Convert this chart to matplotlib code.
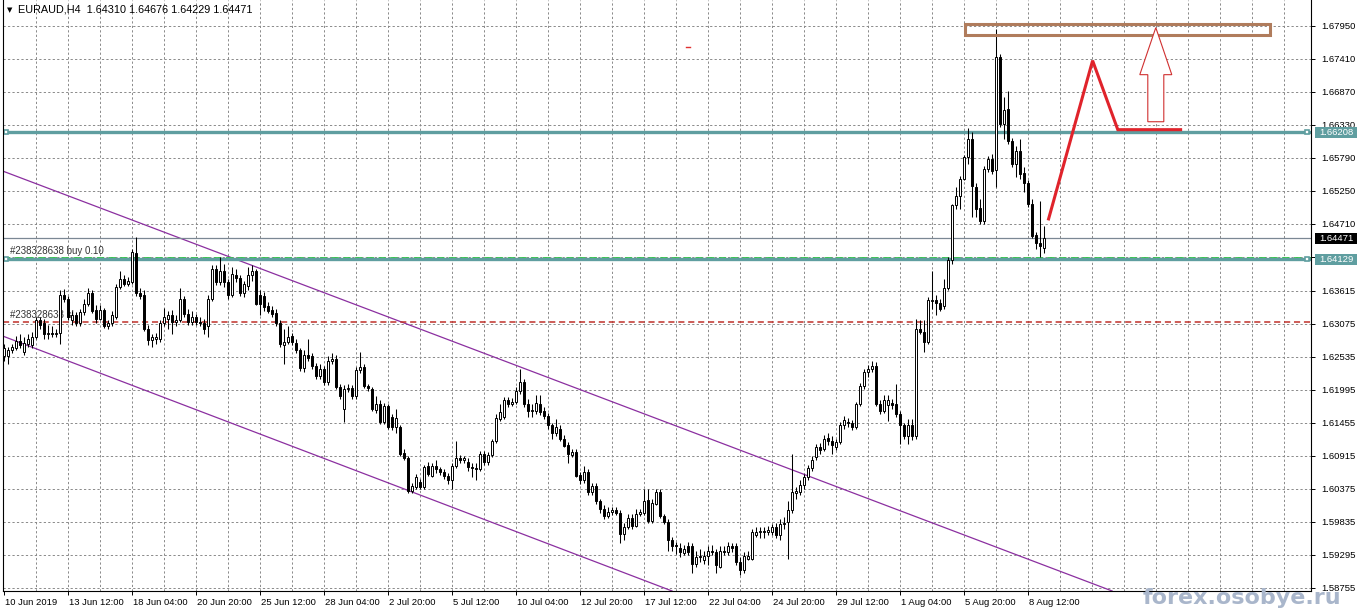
import numpy as np
import matplotlib
matplotlib.use("Agg")
import matplotlib.pyplot as plt
import matplotlib.transforms as mtransforms
from matplotlib.patches import Rectangle, Polygon
from datetime import datetime, timedelta

# EURAUD H4, first bar 10 Jun 2019 20:00
opens = [1.6254, 1.6254, 1.6264, 1.6267, 1.6280, 1.6262, 1.6275, 1.6273, 1.6286, 1.6313,
         1.6309, 1.6290, 1.6293, 1.6290, 1.6293, 1.6355, 1.6348, 1.6313, 1.6322, 1.6308,
         1.6327, 1.6340, 1.6357, 1.6330, 1.6316, 1.6330, 1.6303, 1.6308, 1.6319, 1.6368,
         1.6381, 1.6373, 1.6376, 1.6423, 1.6358, 1.6355, 1.6299, 1.6281, 1.6283, 1.6283,
         1.6308, 1.6316, 1.6322, 1.6311, 1.6314, 1.6348, 1.6324, 1.6311, 1.6319, 1.6311,
         1.6309, 1.6303, 1.6348, 1.6397, 1.6376, 1.6394, 1.6376, 1.6355, 1.6387, 1.6382,
         1.6357, 1.6370, 1.6387, 1.6394, 1.6355, 1.6353, 1.6337, 1.6330, 1.6325, 1.6308,
         1.6273, 1.6278, 1.6288, 1.6276, 1.6264, 1.6235, 1.6256, 1.6254, 1.6238, 1.6222,
         1.6234, 1.6212, 1.6247, 1.6250, 1.6204, 1.6168, 1.6201, 1.6202, 1.6190, 1.6231,
         1.6237, 1.6206, 1.6201, 1.6167, 1.6176, 1.6147, 1.6173, 1.6155, 1.6139, 1.6139,
         1.6096, 1.6087, 1.6034, 1.6041, 1.6049, 1.6041, 1.6075, 1.6059, 1.6075, 1.6069,
         1.6065, 1.6059, 1.6051, 1.6075, 1.6087, 1.6084, 1.6082, 1.6073, 1.6072, 1.6070,
         1.6095, 1.6082, 1.6093, 1.6116, 1.6152, 1.6155, 1.6182, 1.6176, 1.6180, 1.6198,
         1.6212, 1.6176, 1.6165, 1.6165, 1.6176, 1.6165, 1.6157, 1.6141, 1.6128, 1.6136,
         1.6119, 1.6109, 1.6093, 1.6098, 1.6060, 1.6051, 1.6065, 1.6032, 1.6042, 1.6018,
         1.6005, 1.5993, 1.6000, 1.6002, 1.5998, 1.5964, 1.5975, 1.5990, 1.5977, 1.5996,
         1.5998, 1.6019, 1.5985, 1.6013, 1.6032, 1.5993, 1.5983, 1.5953, 1.5946, 1.5941,
         1.5932, 1.5944, 1.5943, 1.5915, 1.5926, 1.5921, 1.5928, 1.5936, 1.5934, 1.5910,
         1.5936, 1.5934, 1.5944, 1.5943, 1.5918, 1.5904, 1.5923, 1.5923, 1.5962, 1.5967,
         1.5969, 1.5967, 1.5967, 1.5975, 1.5961, 1.5980, 1.5983, 1.6002, 1.6031, 1.6032,
         1.6044, 1.6056, 1.6072, 1.6090, 1.6105, 1.6103, 1.6121, 1.6116, 1.6106, 1.6114,
         1.6141, 1.6147, 1.6145, 1.6139, 1.6176, 1.6206, 1.6229, 1.6234, 1.6238, 1.6176,
         1.6165, 1.6175, 1.6178, 1.6176, 1.6160, 1.6141, 1.6124, 1.6141, 1.6123, 1.6299,
         1.6294, 1.6278, 1.6345, 1.6346, 1.6342, 1.6337, 1.6366, 1.6411, 1.6501, 1.6517,
         1.6545, 1.6581, 1.6610, 1.6532, 1.6497, 1.6476, 1.6561, 1.6577, 1.6559, 1.6744,
         1.6635, 1.6659, 1.6607, 1.6569, 1.6590, 1.6554, 1.6538, 1.6504, 1.6453, 1.6440,
         1.64310]
highs = [1.6275, 1.6270, 1.6275, 1.6288, 1.6290, 1.6286, 1.6291, 1.6294, 1.6319, 1.6319,
         1.6316, 1.6306, 1.6303, 1.6299, 1.6362, 1.6365, 1.6353, 1.6329, 1.6327, 1.6332,
         1.6348, 1.6366, 1.6362, 1.6338, 1.6338, 1.6333, 1.6313, 1.6329, 1.6373, 1.6394,
         1.6387, 1.6384, 1.6430, 1.6450, 1.6366, 1.6362, 1.6306, 1.6290, 1.6293, 1.6313,
         1.6333, 1.6329, 1.6330, 1.6322, 1.6366, 1.6353, 1.6332, 1.6329, 1.6324, 1.6319,
         1.6316, 1.6355, 1.6404, 1.6404, 1.6417, 1.6406, 1.6381, 1.6401, 1.6397, 1.6387,
         1.6378, 1.6401, 1.6404, 1.6397, 1.6362, 1.6360, 1.6343, 1.6337, 1.6332, 1.6313,
         1.6299, 1.6304, 1.6293, 1.6283, 1.6267, 1.6264, 1.6283, 1.6259, 1.6243, 1.6242,
         1.6238, 1.6254, 1.6260, 1.6256, 1.6209, 1.6207, 1.6209, 1.6207, 1.6237, 1.6262,
         1.6242, 1.6209, 1.6204, 1.6190, 1.6182, 1.6178, 1.6176, 1.6160, 1.6168, 1.6142,
         1.6103, 1.6091, 1.6047, 1.6062, 1.6054, 1.6077, 1.6082, 1.6080, 1.6084, 1.6073,
         1.6070, 1.6064, 1.6080, 1.6116, 1.6093, 1.6091, 1.6087, 1.6079, 1.6079, 1.6100,
         1.6100, 1.6098, 1.6119, 1.6160, 1.6176, 1.6188, 1.6188, 1.6186, 1.6204, 1.6234,
         1.6217, 1.6185, 1.6176, 1.6191, 1.6191, 1.6172, 1.6162, 1.6145, 1.6152, 1.6141,
         1.6126, 1.6114, 1.6103, 1.6103, 1.6065, 1.6075, 1.6070, 1.6047, 1.6047, 1.6021,
         1.6010, 1.6008, 1.6008, 1.6008, 1.6003, 1.5982, 1.5996, 1.5996, 1.6005, 1.6005,
         1.6037, 1.6037, 1.6021, 1.6037, 1.6037, 1.5996, 1.5988, 1.5959, 1.5951, 1.5948,
         1.5946, 1.5951, 1.5948, 1.5936, 1.5938, 1.5936, 1.5943, 1.5946, 1.5939, 1.5943,
         1.5943, 1.5951, 1.5949, 1.5949, 1.5926, 1.5934, 1.5936, 1.5972, 1.5975, 1.5975,
         1.5975, 1.5977, 1.5980, 1.5982, 1.5988, 1.5991, 1.6018, 1.6095, 1.6041, 1.6051,
         1.6062, 1.6077, 1.6091, 1.6111, 1.6113, 1.6126, 1.6128, 1.6123, 1.6119, 1.6147,
         1.6157, 1.6154, 1.6150, 1.6180, 1.6211, 1.6234, 1.6240, 1.6247, 1.6245, 1.6182,
         1.6191, 1.6191, 1.6185, 1.6209, 1.6165, 1.6145, 1.6152, 1.6152, 1.6316, 1.6313,
         1.6313, 1.6351, 1.6394, 1.6355, 1.6348, 1.6381, 1.6417, 1.6504, 1.6532, 1.6550,
         1.6584, 1.6628, 1.6622, 1.6537, 1.6512, 1.6566, 1.6582, 1.6586, 1.6790, 1.6749,
         1.6679, 1.6689, 1.6612, 1.6599, 1.6610, 1.6564, 1.6543, 1.6512, 1.6458, 1.6509,
         1.64676]
lows = [1.6247, 1.6242, 1.6259, 1.6264, 1.6267, 1.6256, 1.6270, 1.6267, 1.6283, 1.6299,
        1.6283, 1.6283, 1.6285, 1.6286, 1.6275, 1.6343, 1.6313, 1.6306, 1.6304, 1.6303,
        1.6322, 1.6337, 1.6325, 1.6309, 1.6313, 1.6301, 1.6299, 1.6303, 1.6316, 1.6365,
        1.6370, 1.6370, 1.6373, 1.6353, 1.6348, 1.6296, 1.6273, 1.6270, 1.6275, 1.6278,
        1.6303, 1.6299, 1.6290, 1.6303, 1.6311, 1.6319, 1.6306, 1.6306, 1.6306, 1.6304,
        1.6290, 1.6286, 1.6345, 1.6371, 1.6371, 1.6368, 1.6348, 1.6351, 1.6376, 1.6353,
        1.6351, 1.6363, 1.6378, 1.6338, 1.6321, 1.6329, 1.6325, 1.6319, 1.6303, 1.6270,
        1.6242, 1.6275, 1.6273, 1.6260, 1.6230, 1.6229, 1.6247, 1.6234, 1.6217, 1.6217,
        1.6207, 1.6207, 1.6242, 1.6201, 1.6185, 1.6147, 1.6196, 1.6185, 1.6185, 1.6227,
        1.6202, 1.6198, 1.6165, 1.6162, 1.6144, 1.6144, 1.6136, 1.6133, 1.6128, 1.6091,
        1.6084, 1.6031, 1.6031, 1.6037, 1.6037, 1.6037, 1.6059, 1.6056, 1.6064, 1.6060,
        1.6054, 1.6046, 1.6037, 1.6072, 1.6079, 1.6079, 1.6067, 1.6057, 1.6051, 1.6067,
        1.6077, 1.6077, 1.6090, 1.6112, 1.6149, 1.6152, 1.6172, 1.6173, 1.6176, 1.6193,
        1.6172, 1.6155, 1.6155, 1.6160, 1.6158, 1.6152, 1.6136, 1.6119, 1.6124, 1.6116,
        1.6105, 1.6079, 1.6090, 1.6056, 1.6046, 1.6047, 1.6028, 1.6028, 1.6013, 1.5998,
        1.5988, 1.5990, 1.5995, 1.5995, 1.5949, 1.5953, 1.5972, 1.5972, 1.5974, 1.5993,
        1.5995, 1.5982, 1.5982, 1.6010, 1.5990, 1.5979, 1.5936, 1.5936, 1.5931, 1.5926,
        1.5929, 1.5929, 1.5899, 1.5910, 1.5918, 1.5915, 1.5913, 1.5929, 1.5899, 1.5907,
        1.5929, 1.5929, 1.5934, 1.5913, 1.5897, 1.5900, 1.5920, 1.5920, 1.5959, 1.5956,
        1.5956, 1.5962, 1.5962, 1.5956, 1.5953, 1.5972, 1.5923, 1.5998, 1.6021, 1.6028,
        1.6037, 1.6051, 1.6067, 1.6084, 1.6095, 1.6100, 1.6109, 1.6095, 1.6101, 1.6111,
        1.6136, 1.6139, 1.6133, 1.6136, 1.6173, 1.6201, 1.6220, 1.6229, 1.6173, 1.6160,
        1.6162, 1.6149, 1.6168, 1.6155, 1.6111, 1.6119, 1.6111, 1.6118, 1.6119, 1.6290,
        1.6262, 1.6275, 1.6332, 1.6322, 1.6329, 1.6332, 1.6362, 1.6406, 1.6496, 1.6496,
        1.6542, 1.6569, 1.6482, 1.6482, 1.6471, 1.6471, 1.6556, 1.6553, 1.6531, 1.6630,
        1.6610, 1.6602, 1.6564, 1.6548, 1.6545, 1.6523, 1.6499, 1.6447, 1.6430, 1.6417,
        1.64229]
closes = [1.6267, 1.6265, 1.6270, 1.6280, 1.6273, 1.6276, 1.6283, 1.6286, 1.6313, 1.6306,
          1.6290, 1.6293, 1.6290, 1.6293, 1.6355, 1.6348, 1.6319, 1.6322, 1.6308, 1.6327,
          1.6340, 1.6357, 1.6329, 1.6316, 1.6330, 1.6304, 1.6309, 1.6321, 1.6368, 1.6381,
          1.6373, 1.6378, 1.6425, 1.6357, 1.6353, 1.6299, 1.6281, 1.6286, 1.6286, 1.6308,
          1.6319, 1.6322, 1.6311, 1.6314, 1.6348, 1.6324, 1.6311, 1.6319, 1.6311, 1.6308,
          1.6299, 1.6348, 1.6397, 1.6376, 1.6394, 1.6376, 1.6355, 1.6389, 1.6382, 1.6357,
          1.6373, 1.6387, 1.6394, 1.6340, 1.6340, 1.6335, 1.6329, 1.6324, 1.6308, 1.6275,
          1.6278, 1.6286, 1.6278, 1.6264, 1.6235, 1.6256, 1.6252, 1.6238, 1.6222, 1.6234,
          1.6212, 1.6247, 1.6250, 1.6204, 1.6190, 1.6201, 1.6202, 1.6190, 1.6231, 1.6237,
          1.6206, 1.6202, 1.6168, 1.6176, 1.6147, 1.6173, 1.6139, 1.6139, 1.6154, 1.6095,
          1.6087, 1.6034, 1.6042, 1.6057, 1.6041, 1.6073, 1.6062, 1.6075, 1.6069, 1.6065,
          1.6059, 1.6051, 1.6075, 1.6087, 1.6084, 1.6087, 1.6073, 1.6072, 1.6069, 1.6095,
          1.6082, 1.6093, 1.6116, 1.6154, 1.6163, 1.6182, 1.6176, 1.6180, 1.6198, 1.6212,
          1.6176, 1.6165, 1.6167, 1.6178, 1.6163, 1.6157, 1.6141, 1.6128, 1.6139, 1.6119,
          1.6108, 1.6095, 1.6098, 1.6059, 1.6051, 1.6065, 1.6032, 1.6042, 1.6018, 1.6005,
          1.5993, 1.6000, 1.6002, 1.5998, 1.5964, 1.5975, 1.5990, 1.5977, 1.5996, 1.6000,
          1.6018, 1.5985, 1.6014, 1.6032, 1.5993, 1.5983, 1.5953, 1.5944, 1.5943, 1.5934,
          1.5938, 1.5934, 1.5915, 1.5926, 1.5928, 1.5928, 1.5936, 1.5934, 1.5912, 1.5936,
          1.5934, 1.5944, 1.5941, 1.5918, 1.5904, 1.5928, 1.5928, 1.5967, 1.5967, 1.5969,
          1.5966, 1.5970, 1.5975, 1.5961, 1.5980, 1.5982, 1.6002, 1.6032, 1.6034, 1.6044,
          1.6056, 1.6072, 1.6085, 1.6105, 1.6101, 1.6119, 1.6116, 1.6109, 1.6114, 1.6141,
          1.6150, 1.6145, 1.6139, 1.6176, 1.6206, 1.6229, 1.6234, 1.6238, 1.6176, 1.6165,
          1.6182, 1.6182, 1.6175, 1.6160, 1.6141, 1.6124, 1.6141, 1.6123, 1.6299, 1.6294,
          1.6278, 1.6346, 1.6346, 1.6342, 1.6332, 1.6366, 1.6411, 1.6501, 1.6517, 1.6545,
          1.6581, 1.6610, 1.6533, 1.6496, 1.6476, 1.6561, 1.6577, 1.6558, 1.6744, 1.6635,
          1.6658, 1.6607, 1.6569, 1.6590, 1.6553, 1.6538, 1.6504, 1.6451, 1.6440, 1.6435,
          1.64471]

time_labels = ["10 Jun 2019", "13 Jun 12:00", "18 Jun 04:00", "20 Jun 20:00", "25 Jun 12:00",
               "28 Jun 04:00", "2 Jul 20:00", "5 Jul 12:00", "10 Jul 04:00", "12 Jul 20:00",
               "17 Jul 12:00", "22 Jul 04:00", "24 Jul 20:00", "29 Jul 12:00", "1 Aug 04:00",
               "5 Aug 20:00", "8 Aug 12:00"]
price_labels = ["1.67950", "1.67410", "1.66870", "1.66330", "1.65790", "1.65250", "1.64710",
                "1.64170", "1.63615", "1.63075", "1.62535", "1.61995", "1.61455", "1.60915",
                "1.60375", "1.59835", "1.59295", "1.58755"]

header = "EURAUD,H4  1.64310 1.64676 1.64229 1.64471"
resistance = 1.66208
support = 1.64129
bid = 1.64471
order_price = 1.6415
stop_price = 1.6311
order_text = "#238328638 buy 0.10"
stop_text = "#238328638 sl"

# purple channel, two points each (bar, price)
channel_upper = [(0.25, 1.6556), (129, 1.6237)]
channel_lower = [(0.25, 1.6286), (165.5, 1.5874)]
# target zone and forecast drawing
target_bars = (240.3, 316.5)
target_prices = (1.6780, 1.6798)
forecast_bars = [261.2, 272.2, 278.5, 294.2]
forecast_prices = [1.6479, 1.6738, 1.6625, 1.6625]
arrow_bar = 288
arrow_prices = (1.6638, 1.6715, 1.6792)  # shaft bottom, head base, tip

plt.rcParams['font.family'] = ['Liberation Sans', 'DejaVu Sans']
W, H = 1358, 611
fig = plt.figure(figsize=(W / 100, H / 100), dpi=100)
ax = fig.add_axes([3 / W, 20 / H, 1308 / W, 591 / H])
ax.set_xlim(-0.2, -0.2 + 1308 / 4)
ax.set_ylim(1.68392 - 591 * 0.00016364 - 0.0002, 1.68392 - 0.0002)

grid_kw = dict(color='#8a8a8a', lw=0.7, ls=(0, (2.3, 2.3)), zorder=0)
for b in range(8, 327, 8):
    ax.axvline(b, **grid_kw)
for s in price_labels:
    ax.axhline(float(s), **grid_kw)

# channel
pur = '#8B2FA0'
ax.axline(channel_upper[0], channel_upper[1], color=pur, lw=0.9, zorder=1)
ax.axline(channel_lower[0], channel_lower[1], color=pur, lw=0.9, zorder=1)

# order lines
ax.axhline(stop_price, color='#C0302A', lw=1.1, ls=(0, (4, 2.5)), zorder=1)
ax.axhline(order_price, color='#2ECC40', lw=1.3, ls=(0, (4, 2.5)), zorder=1)
ax.axhline(bid, color='#7b8794', lw=0.9, zorder=1)
teal = '#5F9EA0'
for lvl in (resistance, support):
    ax.axhline(lvl, color=teal, lw=2.4, zorder=2)
    ax.plot([0.6, 325.8], [lvl, lvl], ls='none', marker='s', ms=3.5,
            mfc='white', mec=teal, mew=1.2, zorder=2, clip_on=False)
ax.text(1.5, order_price + 0.0004, order_text, fontsize=7, color='#333333', va='bottom', zorder=3)
ax.text(1.5, stop_price + 0.0003, stop_text, fontsize=7, color='#333333', va='bottom', zorder=1.5)

# candles
x = np.arange(len(closes))
o = np.array(opens)
c = np.array(closes)
ax.vlines(x, lows, highs, color='black', lw=0.75, zorder=4)
bull = c >= o
ax.bar(x[bull], (c - o)[bull], bottom=o[bull], width=0.5, color='white',
       edgecolor='black', lw=0.7, zorder=5)
ax.bar(x[~bull], (c - o)[~bull], bottom=o[~bull], width=0.5, color='black',
       edgecolor='black', lw=0.7, zorder=5)

# target box, forecast zigzag and arrow
ax.add_patch(Rectangle((target_bars[0], target_prices[0]), target_bars[1] - target_bars[0],
                       target_prices[1] - target_prices[0], fill=False,
                       edgecolor='#B07C5C', lw=2.2, zorder=6))
ax.plot(forecast_bars, forecast_prices, color='#E0232B', lw=2.2, zorder=6,
        solid_joinstyle='miter')
ab = arrow_bar
sb, hb, tp = arrow_prices
arrow = [(ab - 2, sb), (ab + 2, sb), (ab + 2, hb), (ab + 4, hb), (ab, tp),
         (ab - 4, hb), (ab - 2, hb)]
ax.add_patch(Polygon(arrow, closed=True, facecolor='white', edgecolor='#D03030',
                     lw=0.8, zorder=6))
ax.plot([170.6, 171.6], [1.6761, 1.6761], color='#E03030', lw=1, zorder=6)

# axes look
ax.spines['top'].set_visible(False)
for side in ['left', 'right', 'bottom']:
    ax.spines[side].set_color('black')
    ax.spines[side].set_linewidth(0.8)

ax.yaxis.tick_right()
ax.set_yticks([float(s) for s in price_labels])
ax.set_yticklabels(price_labels)
ax.tick_params(axis='y', direction='out', length=3, width=0.7, pad=4.5, labelsize=6.8)

# bar times, weekends skipped
times = []
t = datetime(2019, 6, 10, 20)
while len(times) < len(closes):
    if t.weekday() < 5:
        times.append(t)
    t += timedelta(hours=4)
names = [f"{d.day} {d:%b} {d:%H:%M}" for d in times]
names[0] = f"{times[0].day} {times[0]:%b %Y}"
tick_bars = [names.index(lbl) for lbl in time_labels]
ax.set_xticks(tick_bars)
ax.set_xticklabels(time_labels)
ax.tick_params(axis='x', direction='out', length=3, width=0.7, pad=2, labelsize=6.8)
shift = mtransforms.ScaledTranslation(1 / 100, 0, fig.dpi_scale_trans)
for lbl in ax.get_xticklabels():
    lbl.set_ha('left')
    lbl.set_transform(lbl.get_transform() + shift)

# price boxes on the scale
bt = mtransforms.blended_transform_factory(fig.transFigure, ax.transData)
for lvl, txt, fc in [(resistance, "1.66208", teal), (support, "1.64129", teal),
                     (bid, "1.64471", 'black')]:
    ax.add_patch(Rectangle((1315 / W, lvl - 0.0009), 42 / W, 0.0018, transform=bt,
                           facecolor=fc, edgecolor='none', zorder=8, clip_on=False))
    ax.text(1319 / W, lvl, txt, transform=bt, color='white', fontsize=6.8,
            va='center', ha='left', zorder=9, clip_on=False)

fig.text(7 / W, 1 - 10 / H, "\u25BC", fontsize=5, va='center', family='DejaVu Sans')
fig.text(18 / W, 1 - 10 / H, header, fontsize=7.8, va='center', color='black')
fig.text(1143 / W, 7 / H, "forex.osobye.ru", fontsize=16, fontweight='bold',
         color='#A9B6CB', va='baseline', family='DejaVu Sans', zorder=10)

fig.savefig("out.png", dpi=100)
